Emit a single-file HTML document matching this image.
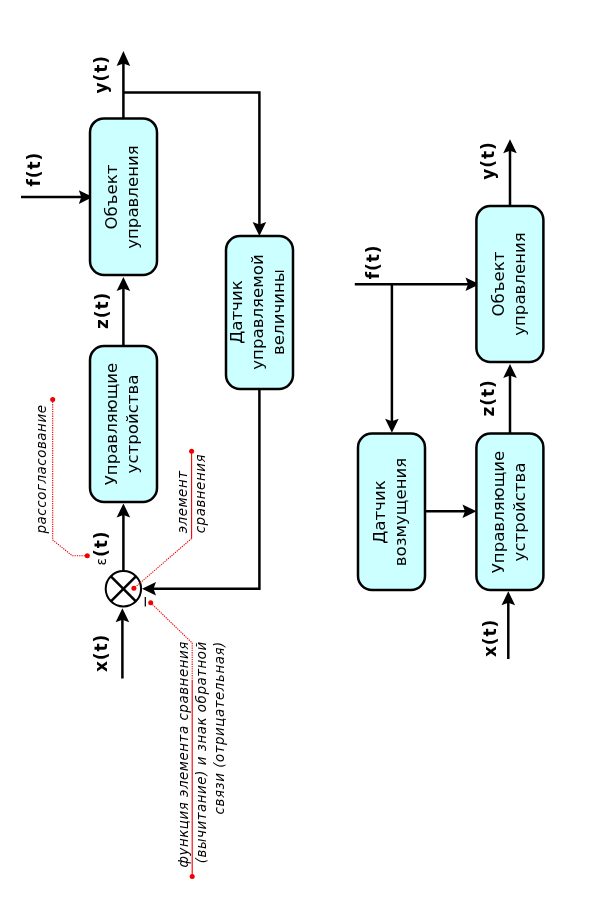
<!DOCTYPE html>
<html lang="ru"><head><meta charset="utf-8"><title>Схема</title>
<style>
html,body{margin:0;padding:0;background:#fff;}
svg{display:block;will-change:transform}
text{font-family:"DejaVu Sans","Liberation Sans",sans-serif;fill:#000}
.b{font-size:16.6px}
.B{font-size:17px;font-weight:bold;letter-spacing:0.9px}
.i{font-size:13.4px;font-style:italic;letter-spacing:0.54px}
.e{font-size:14px;font-weight:normal}
.m{font-size:15.5px}
</style></head><body>
<svg width="608" height="912" viewBox="0 0 608 912">
<rect width="608" height="912" fill="#fff"/>
<path d="M122.4,678.5 L122.4,612" fill="none" stroke="#000" stroke-width="2.5" />
<polygon points="122.4,608.3 129.20000000000002,622.3 122.4,619.8 115.60000000000001,622.3" fill="#000"/>
<path d="M123.4,571 L123.4,508" fill="none" stroke="#000" stroke-width="2.5" />
<polygon points="123.4,503.5 130.20000000000002,517.5 123.4,515.0 116.60000000000001,517.5" fill="#000"/>
<path d="M123.4,346 L123.4,282" fill="none" stroke="#000" stroke-width="2.5" />
<polygon points="123.4,277 130.20000000000002,291 123.4,288.5 116.60000000000001,291" fill="#000"/>
<path d="M123.4,119 L123.4,56" fill="none" stroke="#000" stroke-width="2.5" />
<polygon points="123.4,51 130.20000000000002,66 123.4,63.5 116.60000000000001,66" fill="#000"/>
<path d="M123.4,92.5 L259.4,92.5 L259.4,230" fill="none" stroke="#000" stroke-width="2.5" />
<polygon points="259.4,236 266.2,222 259.4,224.5 252.59999999999997,222" fill="#000"/>
<path d="M259.4,389 L259.4,588.8 L148,588.8" fill="none" stroke="#000" stroke-width="2.5" />
<polygon points="142,588.8 156,595.5999999999999 153.5,588.8 156,582.0" fill="#000"/>
<path d="M21,197.1 L86,197.1" fill="none" stroke="#000" stroke-width="2.5" />
<polygon points="92.8,197.1 78.8,203.9 81.3,197.1 78.8,190.29999999999998" fill="#000"/>
<rect x="90" y="346" width="67" height="156" rx="14" ry="14" fill="#ccffff" stroke="#000" stroke-width="2.5"/>
<rect x="90" y="118.4" width="67" height="156.6" rx="14" ry="14" fill="#ccffff" stroke="#000" stroke-width="2.5"/>
<rect x="226" y="236" width="67" height="153" rx="14" ry="14" fill="#ccffff" stroke="#000" stroke-width="2.5"/>
<circle cx="123.4" cy="588.8" r="17.7" fill="#fff" stroke="#000" stroke-width="2"/>
<path d="M110.88420997299812,576.284209972998 L135.9157900270019,601.3157900270019" fill="none" stroke="#000" stroke-width="2.5" />
<path d="M110.88420997299812,601.3157900270019 L135.9157900270019,576.284209972998" fill="none" stroke="#000" stroke-width="2.5" />
<text class="b" transform="translate(116.6,424) rotate(-90)" text-anchor="middle">Управляющие</text>
<text class="b" transform="translate(137.6,424) rotate(-90)" text-anchor="middle">устройства</text>
<text class="b" transform="translate(116.6,197) rotate(-90)" text-anchor="middle">Объект</text>
<text class="b" transform="translate(137.6,197) rotate(-90)" text-anchor="middle">управления</text>
<text class="b" transform="translate(242.1,312) rotate(-90)" text-anchor="middle">Датчик</text>
<text class="b" transform="translate(263.1,312) rotate(-90)" text-anchor="middle">управляемой</text>
<text class="b" transform="translate(284.1,312) rotate(-90)" text-anchor="middle">величины</text>
<text class="B" transform="translate(107.3,653) rotate(-90)" text-anchor="middle">x(t)</text>
<text class="B" transform="translate(108,310.4) rotate(-90)" text-anchor="middle">z(t)</text>
<text class="B" transform="translate(106.8,74.3) rotate(-90)" text-anchor="middle">y(t)</text>
<text class="B" transform="translate(40.4,169.2) rotate(-90)" text-anchor="middle">f(t)</text>
<text class="B" transform="translate(106.8,565.5) rotate(-90)" text-anchor="start"><tspan class="e" dy="-1.2">ε</tspan><tspan dy="1.2">(t)</tspan></text>
<text class="m" transform="translate(149.7,601.5) rotate(-90)" text-anchor="middle">−</text>
<path d="M52.7,399.5 L52.7,540 L72.4,555.8 L87.2,555.8" fill="none" stroke="#f00000" stroke-width="1.1" stroke-dasharray="1.3 1"/>
<circle cx="52.7" cy="399.5" r="2.5" fill="#f00000"/>
<circle cx="87.3" cy="555.8" r="2.5" fill="#f00000"/>
<text class="i" transform="translate(46,469) rotate(-90)" text-anchor="middle">рассогласование</text>
<path d="M191.6,451.3 L191.6,538.5" fill="none" stroke="#f00000" stroke-width="1.1" />
<path d="M191.6,538.5 L133.9,588.3" fill="none" stroke="#f00000" stroke-width="1.1" stroke-dasharray="1.3 1"/>
<circle cx="191.6" cy="451.3" r="2.5" fill="#f00000"/>
<circle cx="133.9" cy="588.3" r="2.5" fill="#f00000"/>
<text class="i" transform="translate(187,533.3) rotate(-90)" text-anchor="start">элемент</text>
<text class="i" transform="translate(205,533.3) rotate(-90)" text-anchor="start">сравнения</text>
<path d="M192.2,876.4 L192.2,681" fill="none" stroke="#f00000" stroke-width="1.1" />
<path d="M192.2,681 L192.2,643 L150.7,602.8" fill="none" stroke="#f00000" stroke-width="1.1" stroke-dasharray="1.3 1"/>
<circle cx="192.2" cy="876.4" r="2.5" fill="#f00000"/>
<circle cx="150.7" cy="602.8" r="2.5" fill="#f00000"/>
<text class="i" transform="translate(188,641.2) rotate(-90)" text-anchor="end">функция элемента сравнения</text>
<text class="i" transform="translate(206,641.2) rotate(-90)" text-anchor="end">(вычитание) и знак обратной</text>
<text class="i" transform="translate(224,641.2) rotate(-90)" text-anchor="end">связи (отрицательная)</text>
<path d="M508.3,659 L508.3,596" fill="none" stroke="#000" stroke-width="2.5" />
<polygon points="508.3,591.2 515.1,605.2 508.3,602.7 501.5,605.2" fill="#000"/>
<path d="M510,434 L510,368" fill="none" stroke="#000" stroke-width="2.5" />
<polygon points="510,364 516.8,378 510,375.5 503.2,378" fill="#000"/>
<path d="M510,206 L510,144" fill="none" stroke="#000" stroke-width="2.5" />
<polygon points="510,139.2 516.8,153.2 510,150.7 503.2,153.2" fill="#000"/>
<path d="M354.8,284.2 L470,284.2" fill="none" stroke="#000" stroke-width="2.5" />
<polygon points="479.5,284.2 465.5,291.0 468.0,284.2 465.5,277.4" fill="#000"/>
<path d="M391.9,284.2 L391.9,428" fill="none" stroke="#000" stroke-width="2.5" />
<polygon points="391.9,432.8 398.7,418.8 391.9,421.3 385.09999999999997,418.8" fill="#000"/>
<path d="M425,511.3 L470,511.3" fill="none" stroke="#000" stroke-width="2.5" />
<polygon points="476.5,511.3 462.5,518.1 465.0,511.3 462.5,504.5" fill="#000"/>
<rect x="476.4" y="433.5" width="67.0" height="156.5" rx="14" ry="14" fill="#ccffff" stroke="#000" stroke-width="2.5"/>
<rect x="476.4" y="206" width="67.0" height="156" rx="14" ry="14" fill="#ccffff" stroke="#000" stroke-width="2.5"/>
<rect x="358" y="433.5" width="67" height="156.5" rx="14" ry="14" fill="#ccffff" stroke="#000" stroke-width="2.5"/>
<text class="b" transform="translate(503.6,512) rotate(-90)" text-anchor="middle">Управляющие</text>
<text class="b" transform="translate(524.6,512) rotate(-90)" text-anchor="middle">устройства</text>
<text class="b" transform="translate(503.6,284) rotate(-90)" text-anchor="middle">Объект</text>
<text class="b" transform="translate(524.6,284) rotate(-90)" text-anchor="middle">управления</text>
<text class="b" transform="translate(384.6,512) rotate(-90)" text-anchor="middle">Датчик</text>
<text class="b" transform="translate(405.6,512) rotate(-90)" text-anchor="middle">возмущения</text>
<text class="B" transform="translate(495.5,638) rotate(-90)" text-anchor="middle">x(t)</text>
<text class="B" transform="translate(494.2,398) rotate(-90)" text-anchor="middle">z(t)</text>
<text class="B" transform="translate(494,160.6) rotate(-90)" text-anchor="middle">y(t)</text>
<text class="B" transform="translate(379,262) rotate(-90)" text-anchor="middle">f(t)</text>
</svg>
</body></html>
